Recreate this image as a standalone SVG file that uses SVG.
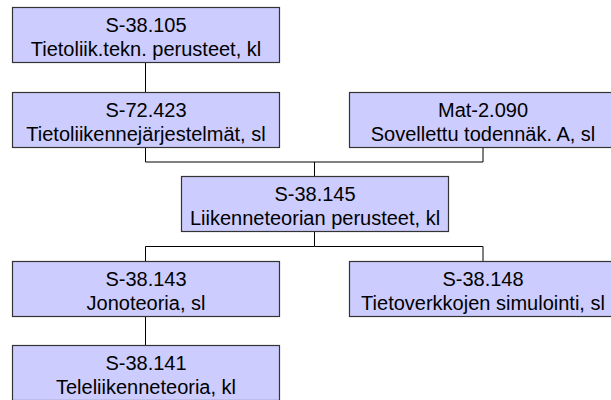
<svg xmlns="http://www.w3.org/2000/svg" width="611" height="400" viewBox="0 0 611 400">
<style>
.box{fill:#ccccff;stroke:#333333;stroke-width:1.2}
.t{font-family:"Liberation Sans",Arial,sans-serif;font-size:20px;fill:#000;text-anchor:middle}
.c{fill:none;stroke:#000;stroke-width:1}
</style>
<rect width="611" height="400" fill="#ffffff"/>
<g id="connectors">
<path class="c" d="M145.5 63V92"/>
<path class="c" d="M145.5 147V162H483V147"/>
<path class="c" d="M314.5 162V176"/>
<path class="c" d="M314.5 232V246.5H145.5V261"/>
<path class="c" d="M314.5 246.5H483V261"/>
<path class="c" d="M145.5 317V345"/>
</g>
<g id="n1"><rect class="box" x="12.5" y="7.5" width="267" height="55"/><text class="t" x="146" y="32">S-38.105</text><text class="t" x="146" y="56">Tietoliik.tekn. perusteet, kl</text></g>
<g id="n2"><rect class="box" x="12.5" y="92.5" width="267" height="55"/><text class="t" x="146" y="117">S-72.423</text><text class="t" x="146" y="141">Tietoliikennejärjestelmät, sl</text></g>
<g id="n3"><rect class="box" x="349.5" y="92.5" width="267" height="55"/><text class="t" x="483" y="117">Mat-2.090</text><text class="t" x="483" y="141">Sovellettu todennäk. A, sl</text></g>
<g id="n4"><rect class="box" x="181.5" y="176.5" width="267" height="55"/><text class="t" x="315" y="201">S-38.145</text><text class="t" x="315" y="225">Liikenneteorian perusteet, kl</text></g>
<g id="n5"><rect class="box" x="12.5" y="261.5" width="267" height="55"/><text class="t" x="146" y="286">S-38.143</text><text class="t" x="146" y="310">Jonoteoria, sl</text></g>
<g id="n6"><rect class="box" x="349.5" y="261.5" width="267" height="55"/><text class="t" x="483" y="286">S-38.148</text><text class="t" x="483" y="310">Tietoverkkojen simulointi, sl</text></g>
<g id="n7"><rect class="box" x="12.5" y="345.5" width="267" height="55"/><text class="t" x="146" y="370">S-38.141</text><text class="t" x="146" y="394">Teleliikenneteoria, kl</text></g>
</svg>
